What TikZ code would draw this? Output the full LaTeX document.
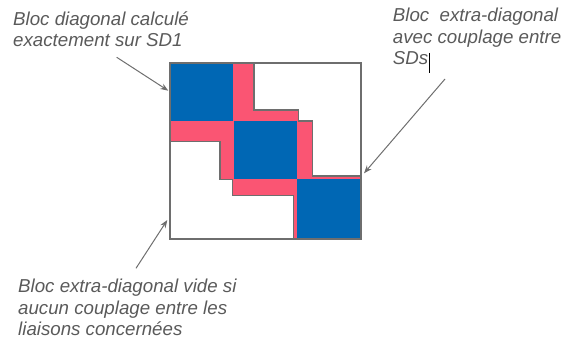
\documentclass[tikz,border=0pt]{standalone}
\usepackage{fontspec}
\setmainfont{Liberation Sans}
\usetikzlibrary{arrows.meta}
\definecolor{blocblue}{RGB}{0,103,180}
\definecolor{blocpink}{RGB}{250,85,115}
\definecolor{linegray}{RGB}{110,110,110}
\definecolor{textgray}{RGB}{90,90,90}

\begin{document}
\begin{tikzpicture}[x=1pt, y=-1pt,
    label text/.style={anchor=north west, inner sep=0pt, align=left, text=textgray,
        font=\fontsize{18.7}{21.3}\selectfont\itshape},
    pointer/.style={draw=linegray, line width=1pt, -{Stealth[length=8pt, width=6pt]}},
    empty part/.style={fill=white, draw=linegray, line width=1.3pt}]
    \useasboundingbox (0,0) rectangle (562,344);

    % Draw the matrix: coupling (pink) everywhere first
    \fill[blocpink] (170,63) rectangle (361,239);

    % Diagonal blocks
    \fill[blocblue] (170,63) rectangle (233,121);
    \fill[blocblue] (233.5,121) rectangle (297,179.5);
    \fill[blocblue] (297,179.5) rectangle (361,239);

    % Empty off-diagonal parts
    \draw[empty part] (254,63) -- (361,63) -- (361,176) -- (312.7,176) -- (312.7,121)
        -- (298.3,121) -- (298.3,110) -- (254,110) -- cycle;
    \draw[empty part] (170,141.7) -- (220,141.7) -- (220,179.5) -- (232.7,179.5)
        -- (232.7,195.3) -- (293.3,195.3) -- (293.3,239) -- (170,239) -- cycle;
    \draw[draw=linegray, line width=2pt] (170,63) rectangle (361,239);

    % Texts
    \node[label text] (diagtext) at (13,11.5) {Bloc diagonal calculé\\exactement sur SD1};
    \node[label text] (extratext) at (392.7,8) {Bloc\ \ extra-diagonal\\avec couplage entre\\SDs};
    \node[label text] (emptytext) at (18,279) {Bloc extra-diagonal vide si\\aucun couplage entre les\\liaisons concernées};
    \draw[black, line width=0.8pt] (429.5,53) -- (429.5,73);

    % Arrows to the blocks
    \coordinate (diagfrom) at (116.7,57.3);
    \coordinate (diagto) at (168.3,90.7);
    \coordinate (extrafrom) at (445,79);
    \coordinate (extrato) at (364,173.3);
    \coordinate (emptyfrom) at (136,268.3);
    \coordinate (emptyto) at (167.3,220);
    \draw[pointer] (diagfrom) -- (diagto);
    \draw[pointer] (extrafrom) -- (extrato);
    \draw[pointer] (emptyfrom) -- (emptyto);
\end{tikzpicture}
\end{document}
